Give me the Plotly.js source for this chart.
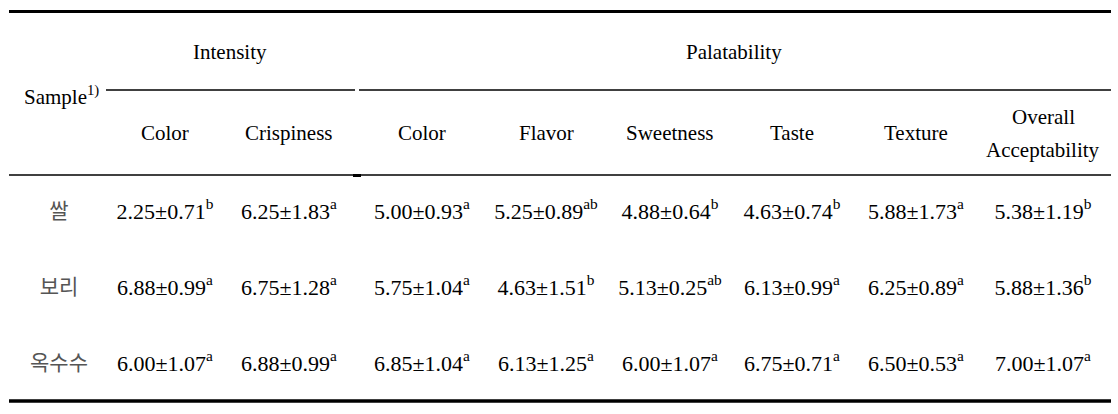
<!DOCTYPE html>
<html>
<head>
<meta charset="utf-8">
<script src="https://cdn.plot.ly/plotly-3.0.1.min.js"></script>
<style>html,body{margin:0;padding:0;background:#fff;}#chart{width:1118px;height:414px;}</style>
</head>
<body>
<div id="chart"></div>
<script>
// ---- data ----
const samples = ['쌀', '보리', '옥수수'];
const groups = ['Intensity', 'Palatability'];
const columns = ['Color', 'Crispiness', 'Color', 'Flavor', 'Sweetness', 'Taste', 'Texture', 'Overall<br>Acceptability'];
const riceMean   = [2.25, 6.25, 5.00, 5.25, 4.88, 4.63, 5.88, 5.38];
const riceSD     = [0.71, 1.83, 0.93, 0.89, 0.64, 0.74, 1.73, 1.19];
const riceSig    = ['b', 'a', 'a', 'ab', 'b', 'b', 'a', 'b'];
const barleyMean = [6.88, 6.75, 5.75, 4.63, 5.13, 6.13, 6.25, 5.88];
const barleySD   = [0.99, 1.28, 1.04, 1.51, 0.25, 0.99, 0.89, 1.36];
const barleySig  = ['a', 'a', 'a', 'b', 'ab', 'a', 'a', 'b'];
const cornMean   = [6.00, 6.88, 6.85, 6.13, 6.00, 6.75, 6.50, 7.00];
const cornSD     = [1.07, 0.99, 1.04, 1.25, 1.07, 0.71, 0.53, 1.07];
const cornSig    = ['a', 'a', 'a', 'a', 'a', 'a', 'a', 'a'];

// ---- layout config (pixel coordinates on the axes) ----
const colX = [165, 289, 422, 546, 670, 792, 916, 1043];
const groupX = [230, 734];
const rowY = [213, 289, 365];
const serif = '"Liberation Serif", "Times New Roman", Times, serif';
const korean = '"Noto Sans CJK KR", sans-serif';

const rows = [
  {m: riceMean, s: riceSD, g: riceSig},
  {m: barleyMean, s: barleySD, g: barleySig},
  {m: cornMean, s: cornSD, g: cornSig}
];

const traces = rows.map((r, i) => ({
  type: 'scatter', mode: 'text',
  x: colX,
  y: colX.map(() => rowY[i]),
  text: r.m.map((v, j) => v.toFixed(2) + '±' + r.s[j].toFixed(2) + '<sup>' + r.g[j] + '</sup>'),
  textposition: 'middle center',
  textfont: {family: serif, size: 22, color: '#000'},
  hoverinfo: 'none', showlegend: false
}));

traces.push({
  type: 'scatter', mode: 'text',
  x: samples.map(() => 59),
  y: rowY,
  text: samples,
  textposition: 'middle center',
  textfont: {family: korean, size: 21, color: '#555'},
  hoverinfo: 'none', showlegend: false
});

const annotations = [];
groups.forEach((g, i) => annotations.push({
  x: groupX[i], y: 52, text: g, showarrow: false, xanchor: 'center', yanchor: 'middle',
  font: {family: serif, size: 21, color: '#000'}
}));
annotations.push({
  x: 22, y: 95, text: 'Sample<sup>1)</sup>', showarrow: false, xanchor: 'left', yanchor: 'middle',
  font: {family: serif, size: 21, color: '#000'}
});
columns.forEach((c, i) => {
  const lines = c.split('<br>');
  lines.forEach((ln, k) => annotations.push({
    x: colX[i], y: lines.length === 1 ? 133 : 117 + k * 33, text: ln, showarrow: false,
    xanchor: 'center', yanchor: 'middle',
    font: {family: serif, size: 21, color: '#000'}
  }));
});

function hline(x0, x1, y, w) {
  return {type: 'line', xref: 'x', yref: 'y', x0: x0, x1: x1, y0: y, y1: y, line: {color: '#000', width: w}};
}
const shapes = [
  hline(9, 1111, 11.5, 3),
  hline(106, 355, 90, 1.3),
  hline(359, 1111, 90, 1.3),
  hline(9, 1111, 175, 1.3),
  hline(353, 361, 175.5, 3),
  hline(9, 1111, 401, 3.5)
];

const layout = {
  width: 1118, height: 414,
  margin: {l: 0, r: 0, t: 0, b: 0},
  paper_bgcolor: '#fff', plot_bgcolor: '#fff',
  font: {family: serif},
  xaxis: {range: [0, 1118], visible: false, fixedrange: true},
  yaxis: {range: [414, 0], visible: false, fixedrange: true},
  annotations: annotations,
  shapes: shapes,
  showlegend: false
};

Plotly.newPlot('chart', traces, layout, {displayModeBar: false, staticPlot: true});
</script>
</body>
</html>
